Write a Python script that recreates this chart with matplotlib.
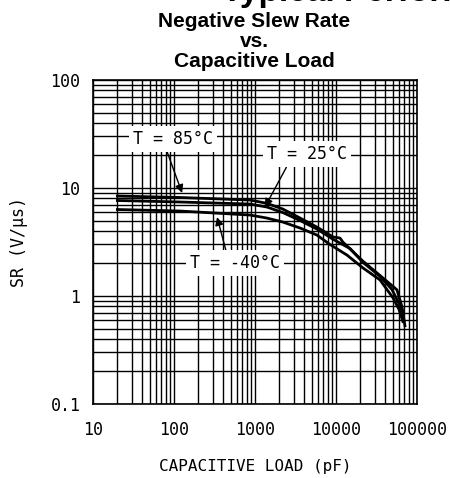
import matplotlib
matplotlib.use("Agg")
import matplotlib.pyplot as plt
from matplotlib.ticker import FixedLocator, FixedFormatter, LogLocator, NullFormatter

# ---- data ----
cap_85 = [20, 118, 867, 1400, 2200, 3600, 5800, 9200, 11200, 12200, 21500, 34900, 49000, 56600, 65300, 71000]
sr_85 = [8.43, 8.17, 7.74, 7.21, 6.39, 5.27, 4.35, 3.52, 3.44, 3.15, 2.10, 1.55, 1.25, 1.14, 0.79, 0.53]
cap_25 = [20, 118, 867, 1400, 2200, 3600, 5800, 9200, 14900, 21500, 34900, 49000, 60000, 67000]
sr_25 = [7.66, 7.42, 7.10, 6.67, 5.93, 5.00, 4.17, 3.35, 2.75, 2.05, 1.52, 1.15, 0.85, 0.62]
cap_m40 = [20, 118, 867, 1400, 2200, 3600, 5800, 8430, 13700, 21500, 34900, 50600, 60000, 67000]
sr_m40 = [6.32, 6.12, 5.62, 5.27, 4.84, 4.26, 3.67, 3.00, 2.39, 1.82, 1.41, 0.96, 0.75, 0.58]

x_ticks = [10, 100, 1000, 10000, 100000]
x_labels = ["10", "100", "1000", "10000", "100000"]
y_ticks = [0.1, 1, 10, 100]
y_labels = ["0.1", "1", "10", "100"]

labels = ["T = 85°C", "T = 25°C", "T = -40°C"]
label_xy = [(97, 28.4), (4390, 20.6), (566, 2.02)]
arrow_xy = [(126, 8.99), (1327, 6.67), (340, 5.38)]
relpos = [(0.41, 0.0), (0.27, 0.0), (0.41, 1.0)]

mono = "DejaVu Sans Mono"

fig = plt.figure(figsize=(4.5, 4.78), dpi=100)
ax = fig.add_axes([93/450, 1 - 404/478, (417-93)/450, (404-80)/478])
ax.set_xscale("log")
ax.set_yscale("log")
ax.set_xlim(10, 100000)
ax.set_ylim(0.1, 100)

ax.xaxis.set_major_locator(FixedLocator(x_ticks))
ax.xaxis.set_major_formatter(FixedFormatter(x_labels))
ax.yaxis.set_major_locator(FixedLocator(y_ticks))
ax.yaxis.set_major_formatter(FixedFormatter(y_labels))
ax.xaxis.set_minor_locator(LogLocator(base=10, subs=range(2, 10), numticks=20))
ax.yaxis.set_minor_locator(LogLocator(base=10, subs=range(2, 10), numticks=20))
ax.xaxis.set_minor_formatter(NullFormatter())
ax.yaxis.set_minor_formatter(NullFormatter())
ax.tick_params(which="both", length=0)
ax.tick_params(axis="x", pad=12)
ax.tick_params(axis="y", pad=9)
for lab in ax.get_xticklabels() + ax.get_yticklabels():
    lab.set_fontfamily(mono)
    lab.set_fontsize(12)

ax.grid(which="both", color="black", lw=1.0)
ax.set_axisbelow(True)
for s in ax.spines.values():
    s.set_color("black")
    s.set_linewidth(1.2)

for c, s in [(cap_85, sr_85), (cap_25, sr_25), (cap_m40, sr_m40)]:
    ax.plot(c, s, color="black", lw=2.0, solid_joinstyle="round", zorder=3)

for txt, xy, axy, rp in zip(labels, label_xy, arrow_xy, relpos):
    ax.annotate(txt, xy=axy, xytext=xy, ha="center", va="center",
                fontfamily=mono, fontsize=12,
                bbox=dict(boxstyle="square,pad=0.25", fc="white", ec="none"),
                arrowprops=dict(arrowstyle="-|>", color="black", lw=1.0,
                                mutation_scale=12, relpos=rp, shrinkA=0, shrinkB=0),
                zorder=4)

ax.set_xlabel("CAPACITIVE LOAD (pF)", fontfamily=mono, fontsize=11.5, labelpad=15)
ax.set_ylabel("SR (V/μs)", fontfamily=mono, fontsize=12, labelpad=16)

tf = "Liberation Sans"
fig.text(222/450, 1 - 1.5/478, "Typical Performance Characteristics", fontfamily=tf,
         fontweight="bold", fontsize=24, ha="left", va="baseline")
fig.text(254/450, 1 - 27/478, "Negative Slew Rate", fontfamily=tf, fontweight="bold",
         fontsize=15, ha="center", va="baseline")
fig.text(254/450, 1 - 47/478, "vs.", fontfamily=tf, fontweight="bold",
         fontsize=15, ha="center", va="baseline")
fig.text(254/450, 1 - 67/478, "Capacitive Load", fontfamily=tf, fontweight="bold",
         fontsize=15, ha="center", va="baseline")

fig.savefig("out.png", dpi=100)
